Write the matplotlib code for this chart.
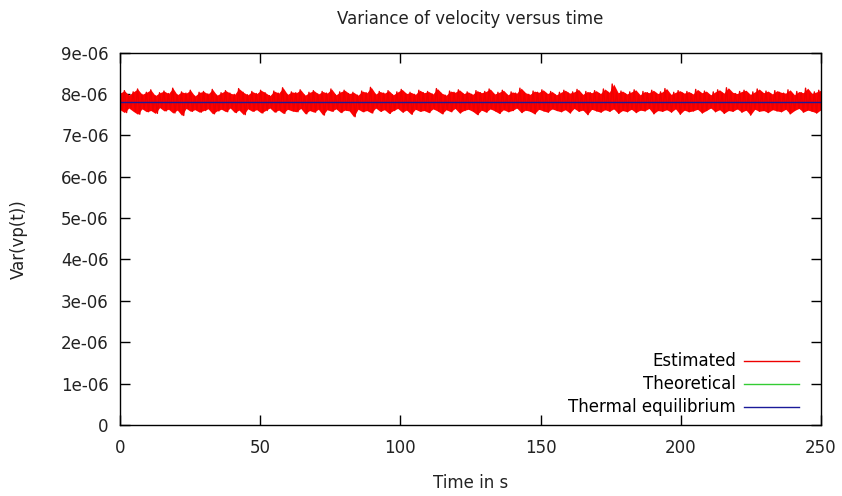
"""Variance of velocity versus time (gnuplot-style chart)."""

import numpy as np
from matplotlib import pyplot as plt

# estimated variance, read off as alternating upper / lower excursions (units of 1e-6)
est_high = [8.02, 8.08, 7.97, 8.05, 8.12, 7.99, 8.04, 8.10, 7.96, 8.03,
            8.07, 8.01, 8.14, 7.98, 8.05, 8.02, 8.09, 7.95, 8.04, 8.06,
            8.00, 8.11, 7.97, 8.03, 8.08, 8.02, 7.99, 8.13, 8.04, 7.98,
            8.06, 8.01, 8.09, 8.03, 7.96, 8.07, 8.02, 8.15, 7.99, 8.05,
            8.03, 8.10, 7.97, 8.04, 8.08, 8.00, 8.06, 8.02, 8.12, 7.98,
            8.05, 8.09, 8.01, 8.04, 7.97, 8.07, 8.03, 8.16, 8.00, 8.06,
            8.02, 8.08, 7.98, 8.05, 8.11, 8.01, 8.04, 7.99, 8.09, 8.03,
            8.06, 8.00, 8.13, 8.02, 7.97, 8.07, 8.04, 8.10, 8.01, 8.05,
            7.99, 8.08, 8.03, 8.06, 8.12, 8.00, 8.04, 8.09, 7.98, 8.05,
            8.02, 8.14, 8.03, 7.99, 8.07, 8.04, 8.10, 8.01, 8.06, 7.98,
            8.04, 8.09, 8.02, 8.05, 8.11, 7.99, 8.06, 8.03, 8.08, 8.01,
            8.12, 8.04, 8.24, 8.03, 8.07, 8.00, 8.05, 8.10, 7.98, 8.06,
            8.03, 8.09, 8.01, 8.05, 8.13, 7.99, 8.04, 8.08, 8.02, 8.06,
            8.00, 8.11, 8.03, 8.07, 7.98, 8.05, 8.10, 8.02, 8.15, 8.04,
            8.01, 8.06, 8.09, 7.99, 8.05, 8.12, 8.03, 8.07, 8.00, 8.08,
            8.04, 8.02, 8.10, 7.98, 8.06, 8.03, 8.14, 8.01, 8.05, 8.09]
est_low = [7.62, 7.55, 7.66, 7.58, 7.51, 7.64, 7.57, 7.60, 7.53, 7.67,
           7.59, 7.63, 7.54, 7.61, 7.48, 7.65, 7.58, 7.62, 7.56, 7.60,
           7.64, 7.52, 7.59, 7.63, 7.57, 7.66, 7.55, 7.61, 7.50, 7.64,
           7.58, 7.62, 7.54, 7.60, 7.66, 7.56, 7.61, 7.53, 7.63, 7.59,
           7.57, 7.65, 7.52, 7.60, 7.56, 7.63, 7.49, 7.62, 7.58, 7.64,
           7.55, 7.61, 7.59, 7.45, 7.63, 7.57, 7.60, 7.54, 7.66, 7.58,
           7.62, 7.53, 7.60, 7.65, 7.56, 7.61, 7.51, 7.63, 7.58, 7.60,
           7.55, 7.64, 7.59, 7.52, 7.62, 7.57, 7.65, 7.54, 7.60, 7.63,
           7.58, 7.50, 7.61, 7.56, 7.64, 7.59, 7.53, 7.62, 7.57, 7.60,
           7.66, 7.55, 7.61, 7.58, 7.52, 7.63, 7.59, 7.56, 7.64, 7.60,
           7.57, 7.62, 7.54, 7.65, 7.58, 7.61, 7.50, 7.63, 7.59, 7.56,
           7.62, 7.58, 7.64, 7.53, 7.60, 7.57, 7.63, 7.55, 7.61, 7.59,
           7.65, 7.52, 7.60, 7.58, 7.62, 7.56, 7.64, 7.51, 7.61, 7.57,
           7.59, 7.63, 7.54, 7.60, 7.66, 7.57, 7.62, 7.53, 7.60, 7.58,
           7.64, 7.56, 7.61, 7.49, 7.63, 7.58, 7.60, 7.55, 7.62, 7.59,
           7.57, 7.63, 7.52, 7.60, 7.65, 7.56, 7.61, 7.58, 7.54, 7.62]

# theoretical curve (rises from 0 almost instantly, then flat)
theory_t = [0, 0.02, 0.05, 0.1, 0.2, 250]
theory_v = [0, 3.0, 5.6, 7.2, 7.8, 7.8]

# thermal equilibrium level
equil_t = [0, 250]
equil_v = [7.8, 7.8]

y_ticks = [0, 1e-6, 2e-6, 3e-6, 4e-6, 5e-6, 6e-6, 7e-6, 8e-6, 9e-6]
y_tick_labels = ['0', '1e-06', '2e-06', '3e-06', '4e-06', '5e-06', '6e-06', '7e-06', '8e-06', '9e-06']
x_ticks = [0, 50, 100, 150, 200, 250]

hi = np.array(est_high) * 1e-6
lo = np.array(est_low) * 1e-6
pair_t = np.linspace(0, 250, len(hi))
est = np.column_stack([hi, lo]).ravel()
est_t = np.linspace(0, 250, len(est))

plt.rcParams['font.family'] = ['DejaVu Sans']
plt.rcParams['font.size'] = 12

fig = plt.figure(figsize=(8.42, 4.96), dpi=100)
ax = fig.add_axes([0.1425, 0.1431, 0.8325, 0.7509])

ax.plot(theory_t, np.array(theory_v) * 1e-6, color='#33cc33', lw=1, label='Theoretical', zorder=2)
ax.fill_between(pair_t, lo, hi, color='#ff0000', lw=0, zorder=3)
ax.plot(est_t, est, color='#ee0000', lw=1, label='Estimated', zorder=3)
ax.plot(equil_t, np.array(equil_v) * 1e-6, color='#1a1a99', lw=1, label='Thermal equilibrium', zorder=4)

ax.set_xlim(0, 250)
ax.set_ylim(0, 9e-6)
ax.set_xticks(x_ticks)
ax.set_yticks(y_ticks)
ax.set_yticklabels(y_tick_labels)
ax.tick_params(direction='in', length=7, width=1, top=True, right=True, colors='black',
               labelcolor='#222222', pad=8)
ax.tick_params(axis='x', pad=10)
for s in ax.spines.values():
    s.set_linewidth(1)
    s.set_zorder(5)

ax.set_title('Variance of velocity versus time', fontsize=12, color='#222222', pad=20.5)
ax.set_xlabel('Time in s', color='#222222', labelpad=12)
ax.set_ylabel('Var(vp(t))', color='#222222', labelpad=24)

handles, labels = ax.get_legend_handles_labels()
order = [1, 0, 2]
ax.legend([handles[i] for i in order], [labels[i] for i in order], loc='lower right',
          bbox_to_anchor=(0.986, -0.008), frameon=False, markerfirst=False,
          handlelength=3.3, handletextpad=0.5, labelspacing=0.3, borderaxespad=0.3)

fig.savefig('out.png', dpi=100)
